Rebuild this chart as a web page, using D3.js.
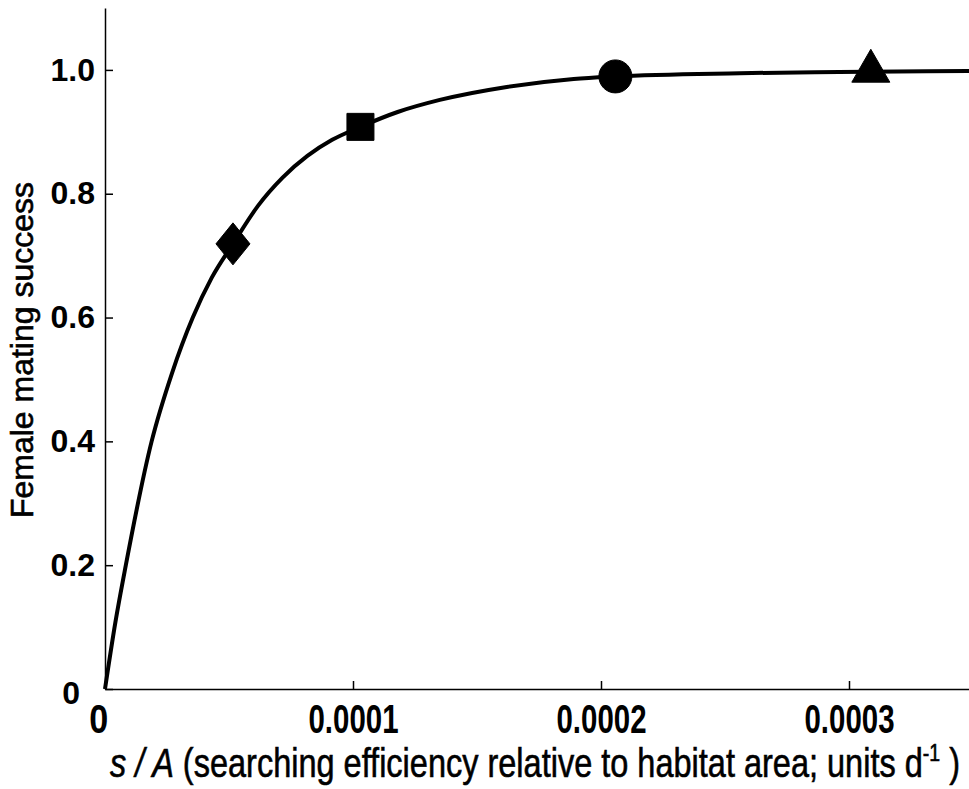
<!DOCTYPE html>
<html>
<head>
<meta charset="utf-8">
<script src="https://cdn.jsdelivr.net/npm/d3@7"></script>
<style>
  body { margin: 0; background: #fff; }
  svg { display: block; font-family: "Liberation Sans", Arial, sans-serif; }
  .axis path, .axis line { stroke: #000; stroke-width: 1.5; }
  .axis text { fill: #000; font-weight: bold; }
  .title { fill: #000; stroke: #000; stroke-width: 0.6; }
</style>
</head>
<body>
<div id="chart"></div>
<script>
// values (x in units d^-1, y = proportion mated)
var curveX = [0, 0.42e-5, 0.84e-5, 1.88e-5, 2.7e-5, 3.54e-5, 4.3e-5, 5.16e-5, 6.16e-5, 7.16e-5,
  8.16e-5, 9.16e-5, 10.3e-5, 11.8e-5, 13.5e-5, 16.2e-5, 18.9e-5, 20.56e-5, 25.6e-5, 29.6e-5, 34.8e-5, 35.2e-5];
var curveY = [0, 0.108, 0.2, 0.4, 0.51, 0.6, 0.664, 0.719, 0.780, 0.826,
  0.861, 0.887, 0.908, 0.932, 0.9515, 0.9725, 0.9855, 0.9895, 0.9947, 0.9968, 0.9984, 0.9985];

var markerX = [5.16e-5, 1.03e-4, 2.058e-4, 3.088e-4];
var markerY = [0.719, 0.908, 0.9895, 0.9979];
var markerShape = ['diamond', 'square', 'circle', 'triangle'];

var xTicks = [0, 0.0001, 0.0002, 0.0003];
var xTickLabels = ['0', '0.0001', '0.0002', '0.0003'];
var yTicks = [0, 0.2, 0.4, 0.6, 0.8, 1.0];
var yTickLabels = ['0', '0.2', '0.4', '0.6', '0.8', '1.0'];

var width = 969, height = 789;
var margin = { left: 105, bottom: 100, top: 8 };

var svg = d3.select('#chart').append('svg')
    .attr('width', width)
    .attr('height', height);

svg.append('rect').attr('width', width).attr('height', height).attr('fill', '#fff');

var x = d3.scaleLinear()
    .domain([0, 0.00035])
    .range([margin.left, margin.left + 868]);
var y = d3.scaleLinear()
    .domain([0, 1.1])
    .range([height - margin.bottom, margin.top]);

// x axis, ticks point inward
var xAxis = svg.append('g')
    .attr('class', 'axis')
    .attr('transform', 'translate(0,' + y(0) + ')')
    .call(d3.axisBottom(x)
      .tickValues(xTicks)
      .tickFormat(function(d, i) { return xTickLabels[i]; })
      .tickSizeInner(-8)
      .tickSizeOuter(0)
      .tickPadding(14));
xAxis.selectAll('text')
    .attr('font-size', 40)
    .attr('dy', null)
    .attr('y', 44)
    .each(function(d, i) {
      // labels are narrow and tall in the original
      var t = d3.select(this);
      var bb = this.getBBox();
      var target = xTickLabels[i].length === 1 ? 19 : 90;
      var sx = target / bb.width;
      t.attr('x', 0).attr('transform', 'scale(' + sx + ',1)');
    });
xAxis.selectAll('.tick').filter(function(d) { return d === 0; })
    .select('text').attr('x', -8);

var yAxis = svg.append('g')
    .attr('class', 'axis')
    .attr('transform', 'translate(' + x(0) + ',0)')
    .call(d3.axisLeft(y)
      .tickValues(yTicks)
      .tickFormat(function(d, i) { return yTickLabels[i]; })
      .tickSizeInner(-8)
      .tickSizeOuter(0)
      .tickPadding(10));
yAxis.selectAll('text').attr('font-size', 32);
yAxis.selectAll('.tick').filter(function(d) { return d === 0; })
    .select('text').attr('x', -25).attr('dy', '0.45em');

// curve
var line = d3.line()
    .x(function(d, i) { return x(curveX[i]); })
    .y(function(d) { return y(d); })
    .curve(d3.curveMonotoneX);

svg.append('path')
    .datum(curveY)
    .attr('d', line)
    .attr('fill', 'none')
    .attr('stroke', '#000')
    .attr('stroke-width', 4)
    .attr('stroke-linejoin', 'round');

// markers
var shapes = {
  diamond: 'M0,-21L17,0L0,21L-17,0Z',
  square: d3.symbol().type(d3.symbolSquare).size(27 * 27)(),
  circle: d3.symbol().type(d3.symbolCircle).size(Math.PI * 16.5 * 16.5)(),
  triangle: d3.symbol().type(d3.symbolTriangle).size(625)()
};

svg.append('g').selectAll('path')
    .data(markerShape)
    .enter().append('path')
    .attr('transform', function(d, i) { return 'translate(' + x(markerX[i]) + ',' + y(markerY[i]) + ')'; })
    .attr('d', function(d) { return shapes[d]; })
    .attr('fill', '#000')
    .attr('stroke', '#000')
    .attr('stroke-width', 1);

// axis titles
svg.append('text')
    .attr('class', 'title')
    .attr('transform', 'translate(33,350) rotate(-90)')
    .attr('text-anchor', 'middle')
    .attr('font-size', 32)
    .text('Female mating success');

var xt = svg.append('text')
    .attr('class', 'title')
    .attr('text-anchor', 'middle')
    .attr('font-size', 40);
xt.append('tspan').attr('font-style', 'italic').text('s / A');
xt.append('tspan').text(' (searching efficiency relative to habitat area; units d');
xt.append('tspan').attr('font-size', 24).attr('dy', -16).text('-1');
xt.append('tspan').attr('dy', 16).text(' )');
var xb = xt.node().getBBox();
var xsx = 850 / xb.width;
xt.attr('transform', 'translate(535,777) scale(' + xsx + ',1)');
</script>
</body>
</html>
